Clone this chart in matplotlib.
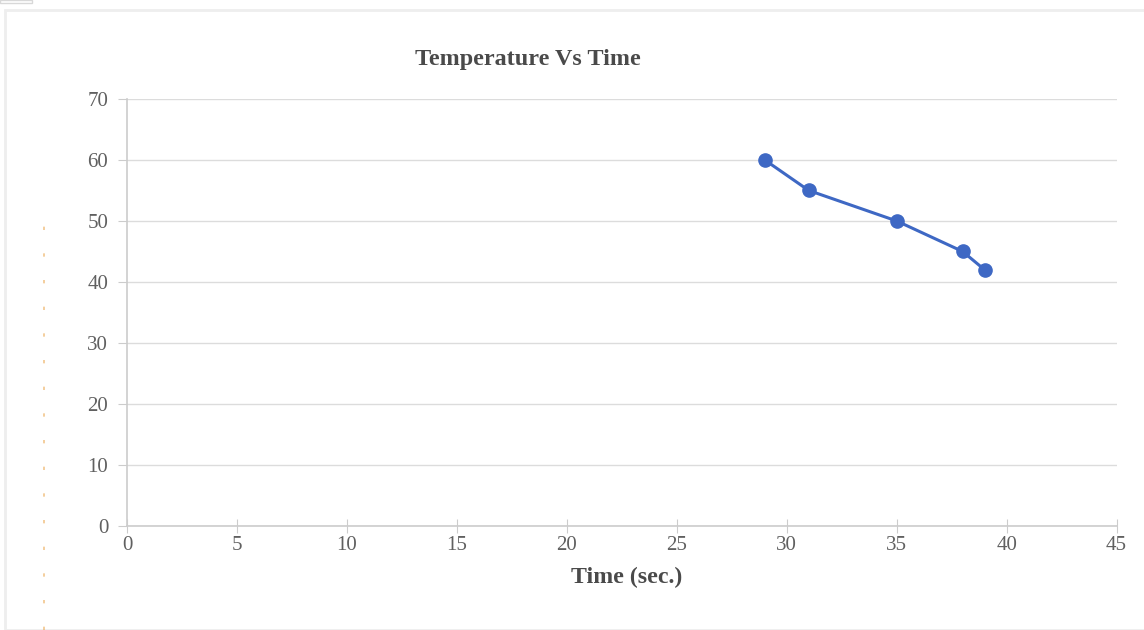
import matplotlib
matplotlib.use("Agg")
import matplotlib.pyplot as plt
from matplotlib.patches import Rectangle
from matplotlib.lines import Line2D

time_sec = [29, 31, 35, 38, 39]
temperature = [60, 55, 50, 45, 42]
x_ticks = [0, 5, 10, 15, 20, 25, 30, 35, 40, 45]
y_ticks = [0, 10, 20, 30, 40, 50, 60, 70]

plt.rcParams["font.family"] = ["Liberation Serif", "DejaVu Serif"]

fig = plt.figure(figsize=(11.44, 6.3), dpi=100)
ax = fig.add_axes([0.111, 0.165, 0.865, 0.678])

ax.plot(time_sec, temperature, "o-", color="#3e68c4", lw=2.2, ms=9.5, zorder=3)

ax.set_xlim(0, 45)
ax.set_ylim(0, 70)
ax.set_xticks(x_ticks)
ax.set_yticks(y_ticks)
ax.grid(True, axis="y", color="#dcdcdc", lw=1)
ax.set_axisbelow(True)
for side in ("top", "right"):
    ax.spines[side].set_visible(False)
for side in ("left", "bottom"):
    ax.spines[side].set_color("#cccccc")
    ax.spines[side].set_linewidth(1.2)
ax.tick_params(axis="both", colors="#cccccc", labelcolor="#606060", labelsize=15, length=6.5)
ax.tick_params(axis="x", direction="inout", length=10, pad=2)
ax.tick_params(axis="y", pad=7)

fig.text(0.461, 0.906, "Temperature Vs Time", ha="center", va="center",
         fontsize=17.4, fontweight="bold", color="#4a4a4a")
fig.text(0.548, 0.084, "Time (sec.)", ha="center", va="center",
         fontsize=17.2, fontweight="bold", color="#4a4a4a")

# outer container frame
fig.add_artist(Rectangle((5 / 1144, 0), 1.0, 1 - 10 / 630, transform=fig.transFigure,
                         fill=False, edgecolor="#eeeeee", lw=2))
fig.add_artist(Rectangle((0, 1 - 3 / 630), 32 / 1144, 3 / 630, transform=fig.transFigure,
                         fill=False, edgecolor="#d8d8d8", lw=1))
# faint dotted marker line on the left
fig.add_artist(Line2D([44 / 1144, 44 / 1144], [0, 0.65], transform=fig.transFigure,
                      color="#eaa040", lw=1.2, ls=(0, (2, 14)), alpha=0.6))

fig.savefig("out.png", dpi=100)
